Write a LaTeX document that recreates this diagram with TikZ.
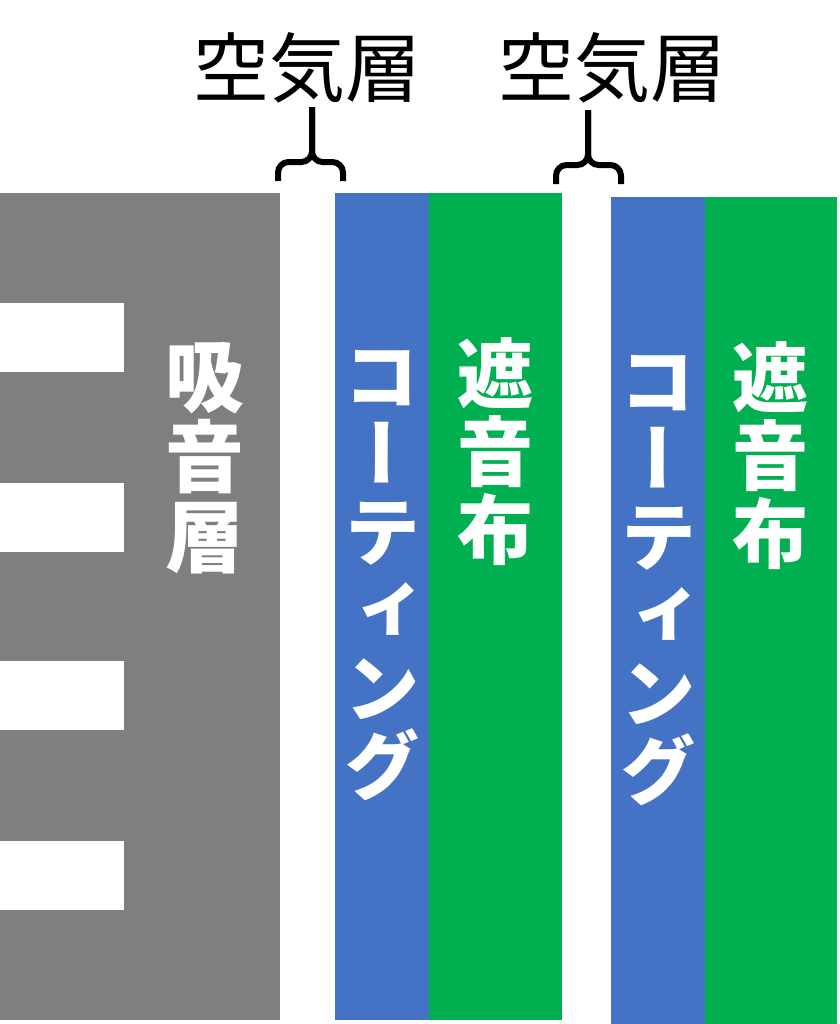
\documentclass[tikz,border=0pt]{standalone}
\usepackage{fontspec}
\newfontfamily\jpfont{Noto Sans CJK JP}
\newfontfamily\jpvert[RawFeature=+vert]{Noto Sans CJK JP}
\definecolor{absorbgray}{HTML}{7F7F7F}
\definecolor{coatblue}{HTML}{4472C4}
\definecolor{clothgreen}{HTML}{00B050}

\begin{document}
\begin{tikzpicture}[x=0.75pt,y=-0.75pt]
      \tikzstyle{every node}=[inner sep=0pt]
      \tikzstyle{vtext}=[text=white, align=center,
        font=\jpvert\bfseries\fontsize{57}{58.5}\selectfont]
      \tikzstyle{airtext}=[font=\jpfont\fontsize{57}{60}\selectfont]
      \tikzstyle{brace}=[line width=4.5pt, rounded corners=8pt]
      \useasboundingbox (0,0) rectangle (839,1024);
      % layers
      \fill[absorbgray] (0,193) rectangle (280,1020);
      \foreach \y in {303,483,661,841} {
        \fill[white] (0,\y) rectangle (124,\y+69);
      }
      \fill[coatblue]   (335,193) rectangle (429,1020);
      \fill[clothgreen] (429,193) rectangle (562,1020);
      \fill[coatblue]   (611,197) rectangle (705,1024);
      \fill[clothgreen] (705,197) rectangle (837,1024);
      % layer names
      \node[vtext, font=\jpvert\bfseries\fontsize{59}{60}\selectfont] (absorb) at (205,458) {吸\\音\\層};
      \node[vtext] (coat1)  at (382,576) {コ\\ー\\テ\\ィ\\ン\\グ};
      \node[vtext] (cloth1) at (495,452) {遮\\音\\布};
      \node[vtext] (coat2)  at (658,581) {コ\\ー\\テ\\ィ\\ン\\グ};
      \node[vtext] (cloth2) at (770,456) {遮\\音\\布};
      % air gaps
      \node[airtext] (air1) at (307,68) {空気層};
      \node[airtext] (air2) at (612,68) {空気層};
      \coordinate (stem1) at (312,107);
      \coordinate (stem2) at (588,110);
      \draw[brace] (278,181) -- (278,162) -- (stem1 |- 0,162) -- (stem1);
      \draw[brace] (343,181) -- (343,162) -- (stem1 |- 0,162) -- (stem1);
      \draw[brace] (556,184) -- (556,165) -- (stem2 |- 0,165) -- (stem2);
      \draw[brace] (621,184) -- (621,165) -- (stem2 |- 0,165) -- (stem2);
\end{tikzpicture}
\end{document}
